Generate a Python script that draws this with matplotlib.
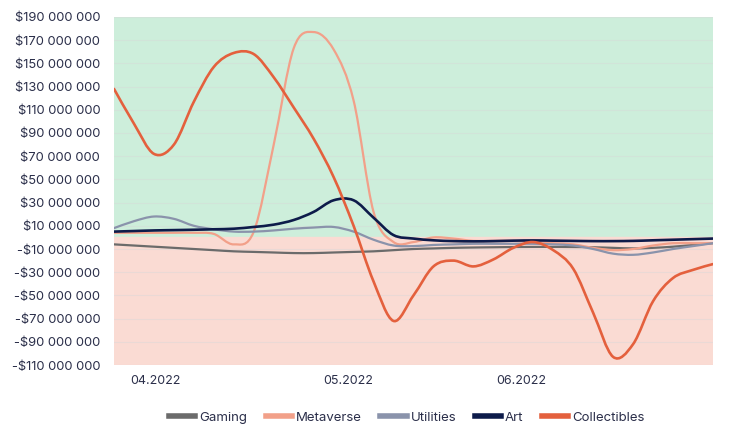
import numpy as np
import matplotlib
matplotlib.use("Agg")
import matplotlib.pyplot as plt
from matplotlib.path import Path
from matplotlib.patches import PathPatch
from matplotlib.lines import Line2D
from matplotlib.ticker import FuncFormatter

plt.rcParams['font.family'] = ['Inter', 'DejaVu Sans']

# values in millions of dollars, one point per period
gaming = [-6, -7, -8, -9, -10, -11, -12, -12.5, -13, -13.5, -13.5, -13, -12.5, -12, -11, -10,
          -9.5, -9, -8.7, -8.5, -8.3, -8.2, -8.2, -8.3, -8.5, -9, -9.5, -9, -8, -6.5, -5]
metaverse = [4, 4, 4, 4, 4, 3, -6, 5, 80, 163, 177, 162, 118, 22, -4, -4, 0, -1, -3, -3, -3,
             -4, -5, -6, -9, -11, -10, -7, -5, -5, -5]
utilities = [8, 14, 18, 16, 10, 7, 5, 5, 6, 7.5, 8.5, 9, 5, -2, -7, -7.5, -6.5, -6, -5.5, -5.5,
             -5.5, -5.5, -6, -7, -10, -14, -15, -13, -10, -7.5, -5]
art = [5, 5.5, 6, 6.3, 6.6, 7, 7.5, 9, 11, 15, 22, 32, 32, 17, 2, -1, -2.5, -3.2, -3.4, -3.2,
       -2.8, -2.6, -2.8, -3, -3.2, -3.2, -3, -2.5, -2, -1.5, -1]
collectibles = [128, 98, 72, 80, 117, 147, 159, 158, 138, 112, 85, 52, 10, -38, -72, -50, -25,
                -20, -25, -19, -9, -4, -11, -27, -65, -103, -92, -55, -35, -28, -23]

series_names = ['Gaming', 'Metaverse', 'Utilities', 'Art', 'Collectibles']
series_values = [gaming, metaverse, utilities, art, collectibles]
colors = ['#6b6b6b', '#f2a089', '#8a93ab', '#0d1b4a', '#e4603d']
widths = [1.6, 1.6, 1.6, 1.9, 1.9]

month_labels = ['04.2022', '05.2022', '06.2022']
month_pos = [2.05, 11.75, 20.4]

yticks = np.arange(-110, 191, 20)


def smooth_path(xs, ys):
    # Catmull-Rom spline turned into cubic Bezier segments
    pts = np.column_stack([xs, ys]).astype(float)
    p = np.vstack([pts[0], pts, pts[-1]])
    verts = [pts[0]]
    codes = [Path.MOVETO]
    for i in range(1, len(p) - 2):
        c1 = p[i] + (p[i + 1] - p[i - 1]) / 6
        c2 = p[i + 1] - (p[i + 2] - p[i]) / 6
        verts += [c1, c2, p[i + 1]]
        codes += [Path.CURVE4] * 3
    return Path(verts, codes)


fig = plt.figure(figsize=(7.29, 4.47), dpi=100)
ax = fig.add_axes([0.1564, 0.1834, 0.8216, 0.7786])

n = len(gaming)
ax.set_xlim(0, n - 1)
ax.set_ylim(-110, 190)
ax.axhspan(0, 190, color='#cdeedb', zorder=0)
ax.axhspan(-110, 0, color='#fadbd3', zorder=0)
for t in yticks:
    ax.axhline(t, color='#d8d8d8', lw=0.8, alpha=0.45, zorder=1)

x = np.arange(n)
handles = []
for name, vals, c, w in zip(series_names, series_values, colors, widths):
    ax.add_patch(PathPatch(smooth_path(x, vals), facecolor='none', edgecolor=c, lw=w,
                           capstyle='round', zorder=3))
    handles.append(Line2D([], [], color=c, lw=4, label=name))

ax.set_yticks(yticks)
ax.yaxis.set_major_formatter(FuncFormatter(
    lambda v, p: ('-' if v < 0 else '') + '$' + f'{abs(int(round(v))) * 1000000:,}'.replace(',', ' ')))
ax.set_xticks(month_pos)
ax.set_xticklabels(month_labels)
ax.tick_params(axis='y', length=0, pad=10, labelsize=9.3, labelcolor='#2b2f4a')
ax.tick_params(axis='x', length=0, pad=7, labelsize=9, labelcolor='#2b2f4a')
for s in ax.spines.values():
    s.set_visible(False)

fig.legend(handles=handles, loc='center', bbox_to_anchor=(0.558, 0.065), ncol=5,
           frameon=False, fontsize=9.5, handlelength=2.0, handletextpad=0.3,
           columnspacing=1.4, labelcolor='#2b2f4a')

fig.savefig('out.png', dpi=100)
